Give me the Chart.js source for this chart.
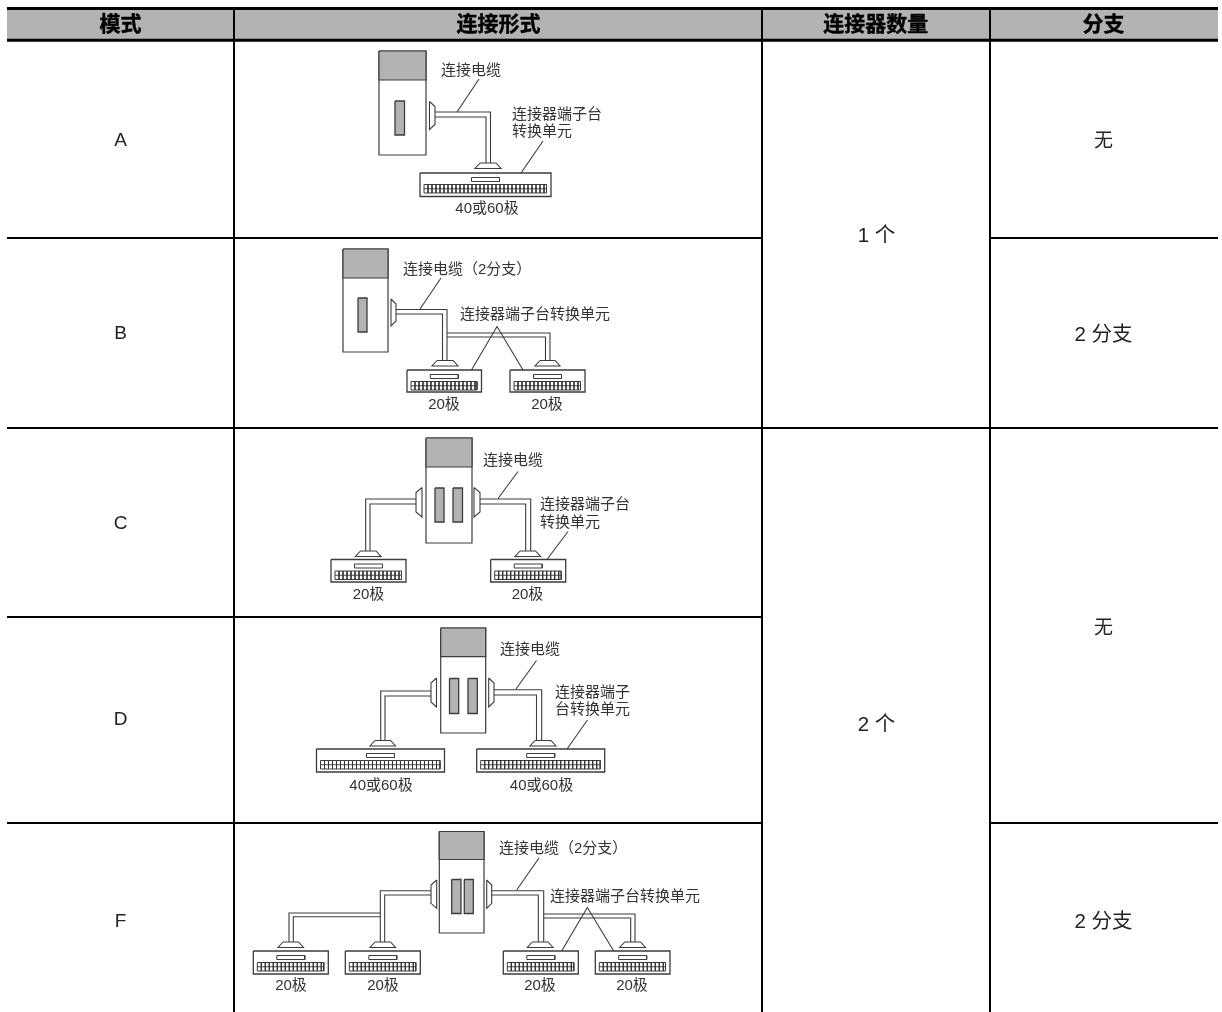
<!DOCTYPE html>
<html><head><meta charset="utf-8">
<style>html,body{margin:0;padding:0;background:#fff}canvas{display:block}</style>
<script src="https://cdn.jsdelivr.net/npm/chart.js@4"></script>
</head><body><canvas id="c" width="1222" height="1012"></canvas>
<script>
// ---- table content ----
const headers = ['模式','连接形式','连接器数量','分支'];
const modes = ['A','B','C','D','F'];
const connectorCounts = ['1 个','2 个'];
const branchKinds = ['无','2 分支','无','2 分支'];
const cableLabel = '连接电缆';
const cableBranchLabel = '连接电缆（2分支）';
const unitLabel = '连接器端子台转换单元';
const pole20 = '20极';
const pole4060 = '40或60极';

// ---- table geometry (axis units) ----
const colEdges = [7,234,762,990,1218];
const rowEdges = [40.5,238,428,617,823,1012];

const ds = [];
const INK='#3c3c3c', GREY='#b3b3b3', BLACK='#000';
const seg=(pts,w,c)=>ds.push({data:pts.map(p=>p?{x:p[0],y:p[1]}:{x:NaN,y:NaN}),showLine:true,pointRadius:0,borderWidth:w||1.1,borderColor:c||INK,fill:false,spanGaps:false,tension:0,borderCapStyle:'butt',borderJoinStyle:'miter'});
const poly=(pts,bg,w,c)=>ds.push({data:[...pts,pts[0]].map(p=>({x:p[0],y:p[1]})),showLine:true,pointRadius:0,borderWidth:w===undefined?1.1:w,borderColor:c||INK,backgroundColor:bg,fill:'shape',tension:0,borderJoinStyle:'miter'});
const rect=(x0,y0,x1,y1,bg,w,c)=>poly([[x0,y0],[x1,y0],[x1,y1],[x0,y1]],bg,w,c);

// table
rect(colEdges[0],9,colEdges[4],40,GREY,0,GREY);
seg([[colEdges[0],8.5],[colEdges[4],8.5]],3,BLACK);
seg([[colEdges[0],40.3],[colEdges[4],40.3]],3,BLACK);
[1,2,3].forEach(i=>seg([[colEdges[i],9],[colEdges[i],rowEdges[5]]],2,BLACK));
seg([[colEdges[0],rowEdges[1]],[colEdges[2],rowEdges[1]]],2,BLACK);
seg([[colEdges[3],rowEdges[1]],[colEdges[4],rowEdges[1]]],2,BLACK);
seg([[colEdges[0],rowEdges[2]],[colEdges[4],rowEdges[2]]],2,BLACK);
seg([[colEdges[0],rowEdges[3]],[colEdges[2],rowEdges[3]]],2,BLACK);
seg([[colEdges[0],rowEdges[4]],[colEdges[2],rowEdges[4]]],2,BLACK);
seg([[colEdges[3],rowEdges[4]],[colEdges[4],rowEdges[4]]],2,BLACK);

// diagram parts
function housing(x0,x1,y0,yg,y1,slots,sy0,sy1){
  rect(x0,y0,x1,y1,'#fff',1.2);
  rect(x0,y0,x1,yg,GREY,1.2);
  slots.forEach(s=>rect(s[0],sy0,s[1],sy1,GREY,1.3));
}
function flare(xa,xb,y0,y1){ // xa at wide edge, xb at cable edge
  poly([[xa,y0],[xb,y0+5],[xb,y1-5],[xa,y1]],'#fff',1.1);
}
function terminal(x0,x1,y0,y1){
  rect(x0,y0,x1,y1,'#fff',1.3);
  const c=(x0+x1)/2;
  rect(c-14,y0+4.5,c+14,y0+8.5,'#fff',1);
  const cx0=x0+4,cx1=x1-4.5,t=y0+11.5,b=y0+20;
  rect(cx0,t,cx1,b,'#fff',1);
  const pts=[[cx0,(t+b)/2],[cx1,(t+b)/2]];
  for(let x=cx0+4;x<cx1;x+=4){pts.push(null,[x,t],[x,b]);}
  seg(pts,0.9,'#333');
}
function foot(x0,x1,y0){
  poly([[x0+5,y0],[x1-5,y0],[x1,y0+5.5],[x0,y0+5.5]],'#fff',1.1);
}

// A
housing(379,426,51,80,155,[[395,404.5]],101,135);
seg([[435,112],[490.5,112],[490.5,164]]);seg([[435,117],[486,117],[486,164]]);
flare(429.5,435,101.5,129.5);
foot(475,501,163);terminal(420,551,173,196.5);
seg([[457,112],[479,79]]);seg([[521,173],[543,141]]);

// B
housing(343,388,249,278,352,[[358,367]],298,332);
seg([[396,309.5],[447,309.5],[447,361]]);seg([[396,314],[442.5,314],[442.5,361]]);
seg([[447,333],[550,333],[550,361]]);seg([[447,337],[545.5,337],[545.5,361]]);
flare(391,396,299,326);
foot(432,458,360.5);foot(535,560,360.5);
terminal(407,481.5,370,392);terminal(510,585,370,392);
seg([[420,309],[441,278]]);seg([[471.5,370],[497,326.5],[523,370]]);

// C
housing(426,472,438,467,543,[[435,444],[453,462.5]],488,522);
seg([[480,499],[530.7,499],[530.7,551]]);seg([[480,504],[525.7,504],[525.7,551]]);
seg([[416,499],[365.7,499],[365.7,551]]);seg([[416,504],[370,504],[370,551]]);
flare(474,480,487.5,517);flare(422,416,487.5,517);
foot(355.5,381,551);foot(515,540.5,551);
terminal(331,406,559.5,582);terminal(490.7,565.7,559.5,582);
seg([[498,498.5],[518,471.5]]);seg([[547,559.5],[568,531.5]]);

// D
housing(440.7,485.7,628,656.7,733,[[449.5,458.7],[468,477.3]],678.5,713.5);
seg([[494,689.7],[541.7,689.7],[541.7,741]]);seg([[494,695],[536.5,695],[536.5,741]]);
seg([[431,691],[380.7,691],[380.7,741]]);seg([[431,696],[385,696],[385,741]]);
flare(488.7,494,678,707);flare(436.5,431,678,707);
foot(370,395.5,740.5);foot(530,556,740.5);
terminal(316.5,444.5,749,772);terminal(476.7,604.7,749,772);
seg([[516,689],[536.5,660.5]]);seg([[567,749],[587.5,720]]);

// F
housing(439.3,484,831.5,859.5,933,[[451.7,461],[464.3,473.3]],879.5,913.5);
seg([[431,890.7],[380.3,890.7],[380.3,942]]);seg([[431,895],[384.7,895],[384.7,942]]);
seg([[380.3,913],[289,913],[289,942]]);seg([[380.3,916.7],[293.3,916.7],[293.3,942]]);
seg([[491.7,890.7],[543.7,890.7],[543.7,942]]);seg([[491.7,895],[538.3,895],[538.3,942]]);
seg([[543.7,914],[635,914],[635,942]]);seg([[543.7,918],[630.7,918],[630.7,942]]);
flare(436.7,431,880,908.3);flare(486.7,491.7,880,908.3);
foot(278,303.5,942);foot(370,395.5,942);foot(527.3,553,942);foot(619.7,645.5,942);
terminal(253.3,328.3,951,974);terminal(345.3,420.3,951,974);
terminal(503.3,578.3,951,974);terminal(595.3,670,951,974);
seg([[516.7,890],[539,858]]);seg([[561.7,951],[587.3,907.5],[613.7,951]]);

// ---- text placement ----
const FONT='"Liberation Sans","Noto Sans CJK SC",sans-serif';
const texts=[];
const T=(s,x,y,size,align,bold,color)=>texts.push({s,x,y,size,align:align||'center',bold,color:color||'#333'});
const headerCx=[120.5,498.5,875.7,1103.5];
headers.forEach((h,i)=>T(h,headerCx[i],25,21,'center',true,'#000'));
const modeCy=[141,334,524,720,922];
modes.forEach((m,i)=>T(m,120.5,modeCy[i],19,'center',false,'#222'));
const countCy=[236,725];
connectorCounts.forEach((c,i)=>T(c,876.5,countCy[i],20.5,'center',false,'#222'));
const branchCy=[142,335.5,629,922];
branchKinds.forEach((b,i)=>T(b,1103.5,branchCy[i],b==='无'?19:20.5,'center',false,'#222'));
const L=15;
T(cableLabel,441,71,L,'left');
T(unitLabel.slice(0,6),512,115,L,'left');T(unitLabel.slice(6),512,132,L,'left');
T(pole4060,487,209,L);
T(cableBranchLabel,403,270,L,'left');T(unitLabel,460,315,L,'left');
T(pole20,444,404.5,L);T(pole20,547,404.5,L);
T(cableLabel,483,460.5,L,'left');
T(unitLabel.slice(0,6),540,505,L,'left');T(unitLabel.slice(6),540,523,L,'left');
T(pole20,368.5,594.5,L);T(pole20,527.5,594.5,L);
T(cableLabel,500,649.5,L,'left');
T(unitLabel.slice(0,5),555,692.5,L,'left');T(unitLabel.slice(5),555,709.5,L,'left');
T(pole4060,381,785.5,L);T(pole4060,541.5,785.5,L);
T(cableBranchLabel,499,848.5,L,'left');T(unitLabel,550,896.5,L,'left');
T(pole20,291,985.5,L);T(pole20,383,985.5,L);T(pole20,540,985.5,L);T(pole20,632,985.5,L);

const textPlugin={id:'tableText',afterDatasetsDraw(ch){
  const {ctx,scales:{x,y}}=ch;ctx.save();ctx.textBaseline='middle';
  texts.forEach(t=>{ctx.font=(t.bold?'bold ':'')+t.size+'px '+FONT;ctx.fillStyle=t.color;ctx.textAlign=t.align;
    const px=x.getPixelForValue(t.x),py=y.getPixelForValue(t.y);
    if(t.bold){ctx.strokeStyle=t.color;ctx.lineWidth=0.4;ctx.strokeText(t.s,px,py);}
    ctx.fillText(t.s,px,py);});
  ctx.restore();
}};

new Chart(document.getElementById('c'),{
  type:'scatter',
  data:{datasets:ds.slice().reverse()},
  options:{responsive:false,animation:false,devicePixelRatio:1,
    layout:{padding:0},
    plugins:{legend:{display:false},tooltip:{enabled:false},title:{display:false}},
    scales:{x:{type:'linear',min:0,max:1222,display:false},y:{type:'linear',min:0,max:1012,reverse:true,display:false}},
    elements:{line:{capBezierPoints:false}}
  },
  plugins:[textPlugin]
});
</script></body></html>
